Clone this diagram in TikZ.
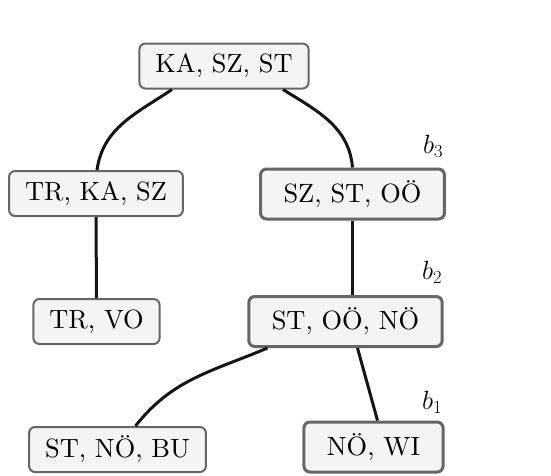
\RequirePackage{fix-cm}
\documentclass[tikz,border=0pt]{standalone}
\usepackage{fontspec}
\setmainfont{lmroman10-regular}[Extension=.otf]
\usepackage{tikz}
\definecolor{boxfill}{HTML}{F4F4F4}
\definecolor{boxline}{HTML}{666666}
\definecolor{edgecol}{HTML}{151515}
\begin{document}
\begin{tikzpicture}[x=1pt,y=-1pt,
  font=\fontsize{26.4}{30}\selectfont,
  bag/.style={draw=boxline,fill=boxfill,rounded corners=6pt,line width=2pt,
    inner xsep=16pt,inner ysep=0pt,minimum height=45pt},
  hotbag/.style={bag,line width=3pt,inner xsep=23pt,minimum height=50pt},
  link/.style={draw=edgecol,line width=3pt},
  blabel/.style={inner sep=0pt}]
  \useasboundingbox (0,0) rectangle (551,475);

  % bags of the decomposition
  \node[bag]    (kaszst)  at (224,66)    {KA, SZ, ST};
  \node[bag]    (trkasz)  at (96,193.5)  {TR, KA, SZ};
  \node[bag]    (trvo)    at (96.5,321.5){TR, VO};
  \node[hotbag] (szstoo)  at (352.5,194) {SZ, ST, OÖ};
  \node[hotbag] (stoono)  at (345.5,321.5){ST, OÖ, NÖ};
  \node[bag]    (stnobu)  at (117.5,449.5){ST, NÖ, BU};
  \node[hotbag] (nowi)    at (373.5,447) {NÖ, WI};

  % labels of the highlighted path
  \node[blabel] (b3) at (433,146) {$b_3$};
  \node[blabel] (b2) at (432,272) {$b_2$};
  \node[blabel] (b1) at (432,402) {$b_1$};

  % tree edges
  \draw[link] ([xshift=-52pt]kaszst.south) to[out=214,in=82] ([xshift=1pt]trkasz.north);
  \draw[link] ([xshift=59pt]kaszst.south) to[out=-32,in=95] (szstoo.north);
  \draw[link] (trkasz) -- (trvo);
  \draw[link] (szstoo.south) -- (szstoo.south |- stoono.north);
  \draw[link] ([xshift=-78pt]stoono.south) to[out=203,in=52] ([xshift=18pt]stnobu.north);
  \draw[link] ([xshift=12pt]stoono.south) -- ([xshift=4pt]nowi.north);
\end{tikzpicture}
\end{document}
